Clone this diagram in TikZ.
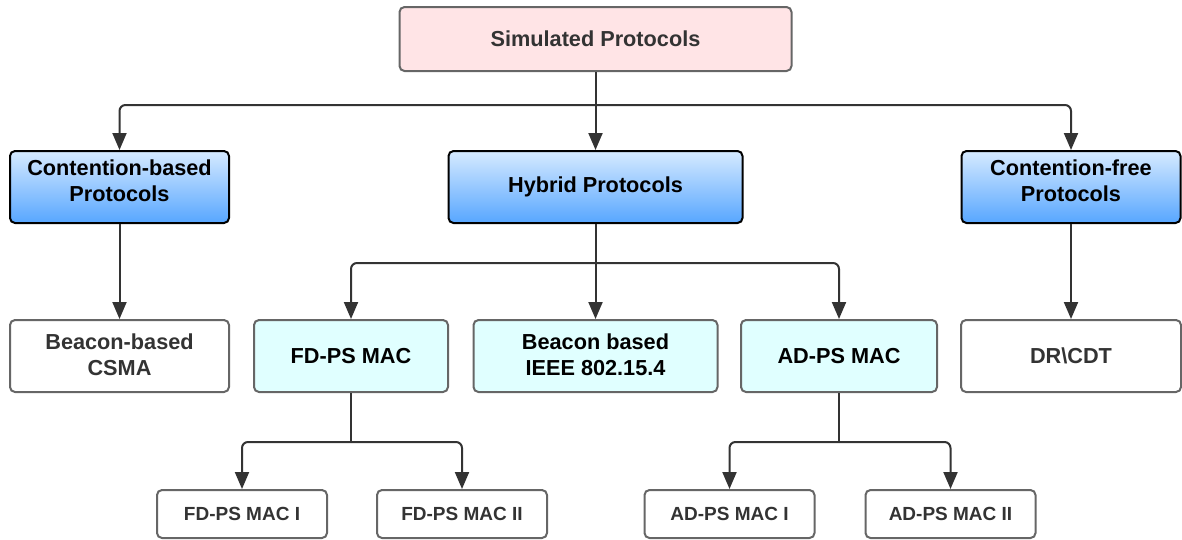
\documentclass[tikz,border=0pt]{standalone}
\usepackage{fontspec}
\setmainfont{Liberation Sans}
\usetikzlibrary{calc}
\usetikzlibrary{arrows.meta}
\definecolor{lnk}{HTML}{333333}
\definecolor{boxgray}{HTML}{666666}
\definecolor{txtgray}{HTML}{333333}
\definecolor{rootpink}{HTML}{FFE4E6}
\definecolor{blueTop}{HTML}{D6EAFF}
\definecolor{blueBot}{HTML}{57A6FF}
\definecolor{cyanlt}{HTML}{E0FFFF}

\begin{document}
\begin{tikzpicture}[x=1pt, y=-1pt, line width=2pt,
        box/.style={draw=boxgray, rounded corners=5pt, inner sep=0pt, align=center,
          text=txtgray, font=\fontsize{21.7}{26}\selectfont\bfseries},
        root/.style={box, fill=rootpink, minimum width=392pt, minimum height=64pt},
        cls/.style={box, draw=black, text=black, top color=blueTop, bottom color=blueBot,
          minimum height=72pt},
        proto/.style={box, fill=white, minimum height=72pt},
        hyb/.style={box, fill=cyanlt, text=black, minimum height=72pt},
        leaf/.style={box, fill=white, minimum width=170pt, minimum height=48pt,
          font=\fontsize{19}{22}\selectfont\bfseries},
        conn/.style={draw=lnk, rounded corners=6pt, -{Triangle[width=14pt,length=17pt]}}]
      \useasboundingbox (0,0) rectangle (1182,539);
      % level 0 and 1
      \node[root] (sim) at (595.5,39) {Simulated Protocols};
      \node[cls, minimum width=219pt, text depth=12pt] (cb) at (119.5,187) {Contention-based\\Protocols};
      \node[cls, minimum width=294pt] (hy) at (595.5,187) {Hybrid Protocols};
      \node[cls, minimum width=219pt, text depth=12pt] (cf) at (1071,187) {Contention-free\\Protocols};
      % level 2
      \node[proto, minimum width=219pt, text depth=3pt] (bc) at (119.5,356) {Beacon-based\\CSMA};
      \node[hyb, minimum width=194pt] (fd) at (351,356) {FD-PS MAC};
      \node[hyb, minimum width=244pt, text depth=3pt] (bi) at (595.5,356) {Beacon based\\IEEE 802.15.4};
      \node[hyb, minimum width=196pt] (ad) at (839,356) {AD-PS MAC};
      \node[proto, minimum width=220pt] (dr) at (1071,356) {DR\textbackslash CDT};
      % level 3
      \node[leaf] (fd1) at (242,514) {FD-PS MAC I};
      \node[leaf] (fd2) at (462,514) {FD-PS MAC II};
      \node[leaf] (ad1) at (729.5,514) {AD-PS MAC I};
      \node[leaf] (ad2) at (950.5,514) {AD-PS MAC II};
      % junctions of the tree
      \coordinate (j1) at ($(sim.south)+(0,33)$);
      \coordinate (j2) at ($(hy.south)+(0,39)$);
      \coordinate (j3) at ($(fd.south)+(0,49)$);
      \coordinate (j4) at ($(ad.south)+(0,49)$);
      \draw[lnk] (sim.south) -- (j1);
      \draw[conn] (j1) -| (cb.north);
      \draw[conn] (j1) -| (cf.north);
      \draw[conn] (j1) -- (hy.north);
      \draw[conn] (cb.south) -- (bc.north);
      \draw[conn] (cf.south) -- (dr.north);
      \draw[lnk] (hy.south) -- (j2);
      \draw[conn] (j2) -| (fd.north);
      \draw[conn] (j2) -| (ad.north);
      \draw[conn] (j2) -- (bi.north);
      \draw[lnk] (fd.south) -- (j3);
      \draw[conn] (j3) -| (fd1.north);
      \draw[conn] (j3) -| (fd2.north);
      \draw[lnk] (ad.south) -- (j4);
      \draw[conn] (j4) -| (ad1.north);
      \draw[conn] (j4) -| (ad2.north);
    \end{tikzpicture}
\end{document}
